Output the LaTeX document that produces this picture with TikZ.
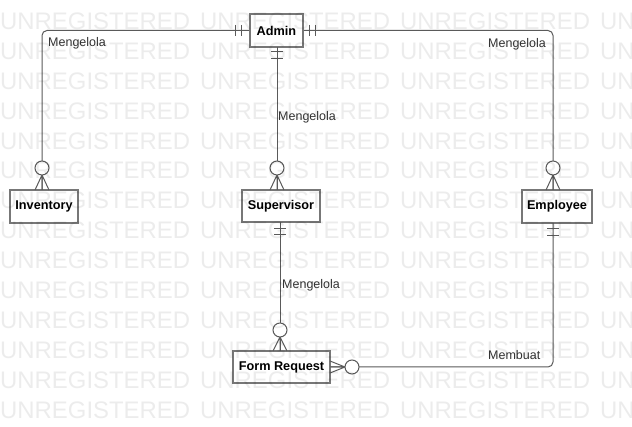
\documentclass[tikz,border=0pt]{standalone}
\usepackage{fontspec}
\setmainfont{Liberation Sans}
\definecolor{boxgray}{HTML}{777777}
\definecolor{linegray}{HTML}{5A5A5A}
\definecolor{labelgray}{HTML}{333333}
\begin{document}
\begin{tikzpicture}[x=1pt,y=-1pt,
  entity/.style={rectangle, draw=boxgray, line width=1.6pt, fill=white, inner sep=0pt,
    font=\bfseries\fontsize{12.7}{14}\selectfont, text=black},
  conn/.style={draw=linegray, line width=1pt},
  lbl/.style={font=\fontsize{12.5}{14}\selectfont, text=labelgray, anchor=west, inner sep=0pt},
  wm/.style={font=\fontsize{23.9}{24}\selectfont, text=black, opacity=0.075, anchor=base west, inner sep=0pt}]
\useasboundingbox[fill=white] (0,0) rectangle (632,427);

% entities
\node[entity, minimum width=53pt, minimum height=33pt] (admin) at (276.5,30.5) {Admin};
\node[entity, minimum width=68pt, minimum height=33pt] (inv) at (44,206.5) {Inventory};
\node[entity, minimum width=78pt, minimum height=32pt] (sup) at (281,206) {Supervisor};
\node[entity, minimum width=70pt, minimum height=33pt] (emp) at (557,206.5) {Employee};
\node[entity, minimum width=97pt, minimum height=32pt] (form) at (281.5,367) {Form Request};

% connector anchor points
\coordinate (invtop) at (42,190);
\coordinate (emptop) at (553,190);
\coordinate (admbot) at (277,47);
\coordinate (suptop) at (277,190);
\coordinate (supbot) at (280,222);
\coordinate (formtop) at (280,351);
\coordinate (empbot) at (553,223);

% connectors
\draw[conn, rounded corners=5pt] (admin.west) -| (invtop);
\draw[conn, rounded corners=5pt] (admin.east) -| (emptop);
\draw[conn] (admbot) -- (suptop);
\draw[conn] (supbot) -- (formtop);
\draw[conn, rounded corners=5pt] (form.east) -| (empbot);

% one-mandatory bars
\draw[conn] (235,25) -- (235,36) (241,25) -- (241,36);
\draw[conn] (309,25) -- (309,36) (315,25) -- (315,36);
\draw[conn] (271,52) -- (283,52) (271,59) -- (283,59);
\draw[conn] (274,229) -- (286,229) (274,235) -- (286,235);
\draw[conn] (547,229) -- (559,229) (547,236) -- (559,236);

% zero-or-many ends (vertical)
\foreach \x in {42,277,553}{
  \draw[conn] (\x,175) -- (\x-7,190) (\x,175) -- (\x,190) (\x,175) -- (\x+7,190);
  \draw[conn, fill=white] (\x,168) circle[radius=7pt];
}
\draw[conn] (280,337) -- (273,351) (280,337) -- (280,351) (280,337) -- (287,351);
\draw[conn, fill=white] (280,330) circle[radius=7pt];
% zero-or-many end (horizontal, Form Request)
\draw[conn] (345,367) -- (330,361) (345,367) -- (330,367) (345,367) -- (330,373);
\draw[conn, fill=white] (352,367) circle[radius=7pt];

% labels
\node[lbl] (l1) at (48,43) {Mengelola};
\node[lbl] (l2) at (488,44) {Mengelola};
\node[lbl] (l3) at (278,117) {Mengelola};
\node[lbl] (l4) at (282,285) {Mengelola};
\node[lbl] (l5) at (488,355) {Membuat};

% watermark
\begin{scope}
\clip (0,0) rectangle (632,427);
\foreach \k in {0,...,13}{
  \foreach \xx in {0,200,400,600}{
    \node[wm] at (\xx,29.5+29.9*\k) {UNREGISTERED};
  }
}
\end{scope}
\end{tikzpicture}
\end{document}
